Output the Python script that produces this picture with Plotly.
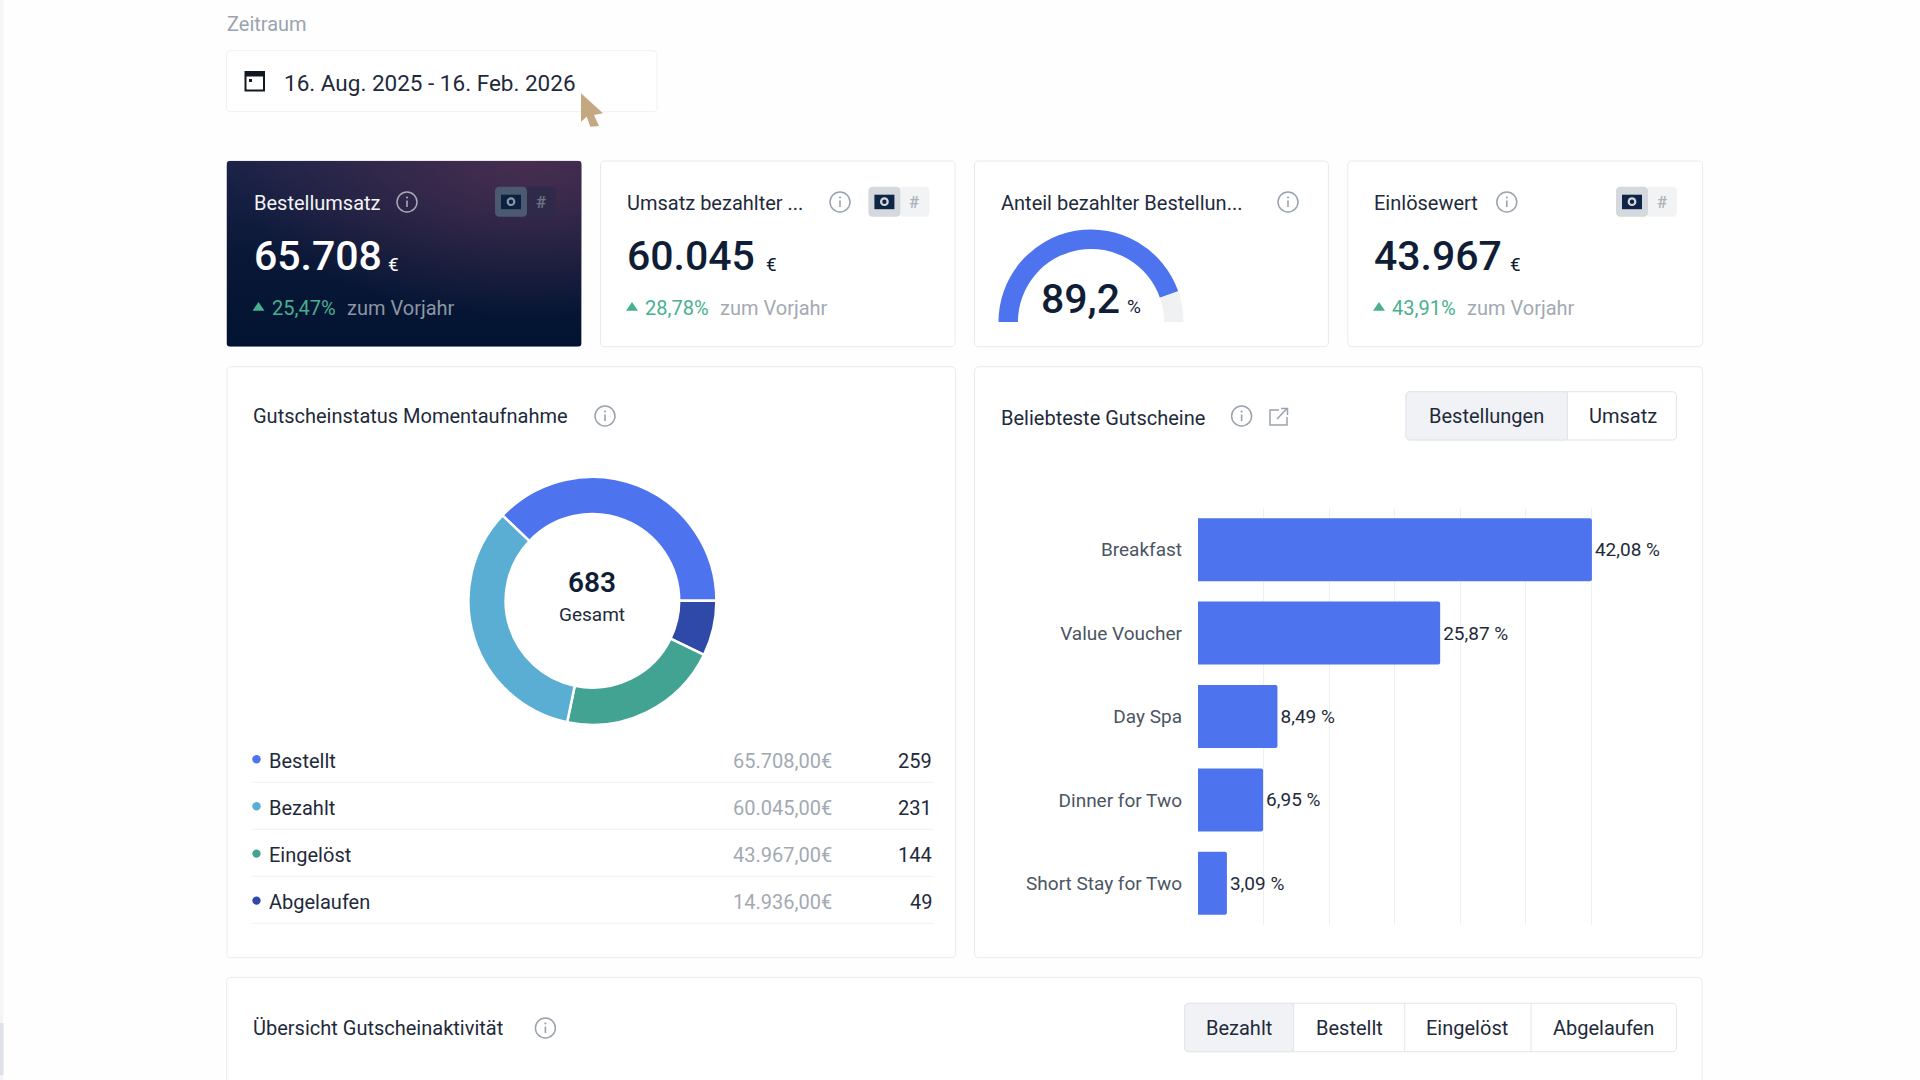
import base64
import plotly.graph_objects as go

# ---------- data ----------
period_label = "16. Aug. 2025 - 16. Feb. 2026"

kpi_titles = ["Bestellumsatz", "Umsatz bezahlter ...", "Anteil bezahlter Bestellun...", "Einlösewert"]
kpi_values = ["65.708", "60.045", "89,2", "43.967"]
kpi_changes = ["25,47%", "28,78%", None, "43,91%"]
gauge_value = 89.2

status_labels = ["Bestellt", "Bezahlt", "Eingelöst", "Abgelaufen"]
status_amounts = [65708, 60045, 43967, 14936]
status_counts = [259, 231, 144, 49]
status_colors = ["#4d74ee", "#5aaed4", "#43a393", "#2f49a8"]

voucher_names = ["Breakfast", "Value Voucher", "Day Spa", "Dinner for Two", "Short Stay for Two"]
voucher_shares = [42.08, 25.87, 8.49, 6.95, 3.09]
grid_ticks = [0, 7, 14, 21, 28, 35, 42]

FONT = "Roboto"
INK = "#1e2a3b"
GREY = "#a3a9b3"
BORDER = "#e8eaed"
BLUE = "#4d74ee"
GREEN = "#48b08f"


def PX(v):
    return v / 1920


def PY(v):
    return 1 - v / 1080


shapes = []
annotations = []


def rrect(x0, y0, x1, y1, r=4, fill="#ffffff", line=None, lw=1):
    k = r * 0.45
    pts = (
        f"M{PX(x0 + r)},{PY(y0)} L{PX(x1 - r)},{PY(y0)} "
        f"C{PX(x1 - k)},{PY(y0)} {PX(x1)},{PY(y0 + k)} {PX(x1)},{PY(y0 + r)} "
        f"L{PX(x1)},{PY(y1 - r)} "
        f"C{PX(x1)},{PY(y1 - k)} {PX(x1 - k)},{PY(y1)} {PX(x1 - r)},{PY(y1)} "
        f"L{PX(x0 + r)},{PY(y1)} "
        f"C{PX(x0 + k)},{PY(y1)} {PX(x0)},{PY(y1 - k)} {PX(x0)},{PY(y1 - r)} "
        f"L{PX(x0)},{PY(y0 + r)} "
        f"C{PX(x0)},{PY(y0 + k)} {PX(x0 + k)},{PY(y0)} {PX(x0 + r)},{PY(y0)} Z"
    )
    shapes.append(dict(type="path", path=pts, xref="paper", yref="paper", layer="below",
                       fillcolor=fill, line=dict(color=line or "rgba(0,0,0,0)", width=lw if line else 0)))


def rect(x0, y0, x1, y1, fill, line=None, lw=0):
    shapes.append(dict(type="rect", xref="paper", yref="paper", layer="below",
                       x0=PX(x0), x1=PX(x1), y0=PY(y1), y1=PY(y0), fillcolor=fill,
                       line=dict(color=line or "rgba(0,0,0,0)", width=lw)))


def circle(cx, cy, r, fill="rgba(0,0,0,0)", line=None, lw=0, layer="below"):
    shapes.append(dict(type="circle", xref="paper", yref="paper", layer=layer,
                       x0=PX(cx - r), x1=PX(cx + r), y0=PY(cy + r), y1=PY(cy - r), fillcolor=fill,
                       line=dict(color=line or "rgba(0,0,0,0)", width=lw)))


def hline(x0, x1, y, color="#eff0f2", lw=1):
    shapes.append(dict(type="line", xref="paper", yref="paper", layer="below",
                       x0=PX(x0), x1=PX(x1), y0=PY(y), y1=PY(y), line=dict(color=color, width=lw)))


def poly(points, fill, line=None, lw=0, close=True):
    d = "M" + " L".join(f"{PX(x)},{PY(y)}" for x, y in points) + (" Z" if close else "")
    shapes.append(dict(type="path", path=d, xref="paper", yref="paper", layer="below",
                       fillcolor=fill, line=dict(color=line or "rgba(0,0,0,0)", width=lw)))


def T(x, y, text, size=20, color=INK, anchor="left", weight=400):
    annotations.append(dict(x=PX(x), y=PY(y), xref="paper", yref="paper", text=text, showarrow=False,
                            xanchor=anchor, yanchor="middle", borderpad=0,
                            font=dict(family=FONT, size=size, color=color, weight=weight)))


def info(cx, cy, color="#9aa2ae"):
    circle(cx, cy, 10, line=color, lw=1.5)
    rect(cx - 0.8, cy - 1.5, cx + 0.8, cy + 5, color)
    circle(cx, cy - 4.5, 1.1, fill=color)


def toggle(x0, y0, left, right, icon, ring, hash_color):
    rrect(x0 + 30, y0, x0 + 61, y0 + 30, 4, right)
    rrect(x0, y0, x0 + 32, y0 + 30, 4, left)
    rect(x0 + 6, y0 + 8, x0 + 26, y0 + 22.5, icon)
    circle(x0 + 16, y0 + 15, 4.4, fill=ring)
    circle(x0 + 16, y0 + 15, 2.2, fill=icon)
    T(x0 + 46, y0 + 15, "#", 17, hash_color, "center", 600)


# ---------- page ----------
rect(0, 0, 3.5, 1080, "#f4f5f7")
rect(0, 1023, 3.5, 1075, "#dfe1ea")

T(226, 24, "Zeitraum", 20, "#9aa3af")
rrect(226.5, 50.7, 657, 111.7, 4, "#ffffff", "#eff1f3")
rect(245.5, 72, 264, 90.5, "#ffffff", "#111820", 2)
rect(245.5, 72, 264, 76.5, "#111820")
rect(249, 79, 252, 82, "#111820")
T(283, 82.7, period_label, 22.5, INK)

# ---------- KPI cards ----------
card_x = [(226.5, 581.6), (600.5, 955), (974.5, 1328.4), (1347.8, 1702.6)]
for i, (x0, x1) in enumerate(card_x):
    if i > 0:
        rrect(x0, 161, x1, 346.7, 4, "#ffffff", BORDER)

svg = """<svg xmlns='http://www.w3.org/2000/svg' width='355' height='186' viewBox='0 0 355 186'>
<defs>
<linearGradient id='a' x1='0' y1='0' x2='0' y2='1'>
<stop offset='0' stop-color='#1c2348'/><stop offset='0.5' stop-color='#0a1837'/><stop offset='1' stop-color='#021332'/></linearGradient>
<radialGradient id='b' cx='0.85' cy='0' r='0.85'>
<stop offset='0' stop-color='#4a2e50' stop-opacity='0.95'/><stop offset='1' stop-color='#4a2e50' stop-opacity='0'/></radialGradient>
</defs>
<rect width='355' height='186' rx='4' fill='url(#a)'/><rect width='355' height='186' rx='4' fill='url(#b)'/></svg>"""
card_image = "data:image/svg+xml;base64," + base64.b64encode(svg.encode()).decode()

text_x = [252.5, 626, 999.7, 1373]
info_x = [407, 840, 1288, 1506.8]
euro_x = [387, 765.3, None, 1509]
for i in range(4):
    dark = i == 0
    T(text_x[i], 202.7, kpi_titles[i], 20, "#f3f4f6" if dark else INK)
    info(info_x[i], 202, "#a5abb4" if dark else "#9aa2ae")
    if i == 2:
        continue
    T(text_x[i], 256, kpi_values[i], 41, "#ffffff" if dark else "#0f1e36", weight=500)
    T(euro_x[i], 264, "€", 19, "#ffffff" if dark else "#0f1e36")
    tx = text_x[i]
    poly([(tx, 310.7), (tx + 6, 302), (tx + 12, 310.7)], GREEN)
    T(tx + 18, 308, kpi_changes[i], 20, GREEN)
    T(tx + 93, 308, "zum Vorjahr", 20, "#8f96a3" if dark else GREY)

toggle(495, 186.7, "#4b5a70", "#2f2a4a", "#0b2142", "#8a95a6", "#6e7486")
toggle(868.4, 186.7, "#d5d8dc", "#f2f3f5", "#0f2547", "#d5d8dc", "#aeb3bb")
toggle(1616, 186.7, "#d5d8dc", "#f2f3f5", "#0f2547", "#d5d8dc", "#aeb3bb")

T(1040, 299, kpi_values[2], 41, "#0f1e36", weight=500)
T(1126, 306.7, "%", 19, "#0f1e36")

# ---------- panels ----------
rrect(227, 366.7, 955.5, 957.7, 4, "#ffffff", BORDER)
rrect(974.5, 366.7, 1702.6, 957.7, 4, "#ffffff", BORDER)
rrect(226.7, 977.3, 1702, 1090, 4, "#ffffff", BORDER)

T(252, 416.4, "Gutscheinstatus Momentaufnahme", 20, INK)
info(605, 416)
T(999.7, 417.5, "Beliebteste Gutscheine", 20, INK)
info(1241.6, 416)

# external link icon
poly([(1279, 410), (1270, 410), (1270, 425), (1287, 425), (1287, 417)], "rgba(0,0,0,0)", "#9aa2ae", 1.5, close=False)
poly([(1277, 419), (1287, 408.5)], "rgba(0,0,0,0)", "#9aa2ae", 1.5, close=False)
poly([(1281, 408.5), (1287.5, 408.5), (1287.5, 415)], "rgba(0,0,0,0)", "#9aa2ae", 1.5, close=False)


def button_group(x0, x1, y0, y1, splits, labels, centers):
    rrect(x0, y0, x1, y1, 4, "#ffffff", "#e3e5e9")
    rrect(x0, y0, splits[0], y1, 4, "#f1f2f5", "#e3e5e9")
    for s in splits:
        shapes.append(dict(type="line", xref="paper", yref="paper", layer="below", x0=PX(s), x1=PX(s),
                           y0=PY(y0), y1=PY(y1), line=dict(color="#e3e5e9", width=1)))
    for lab, c in zip(labels, centers):
        T(c, (y0 + y1) / 2, lab, 20, INK, "center")


button_group(1406, 1676.4, 391.7, 440, [1567.4], ["Bestellungen", "Umsatz"], [1486.6, 1622.9])
T(251.6, 1028.3, "Übersicht Gutscheinaktivität", 20, INK)
info(545.4, 1028)
button_group(1184.6, 1676.5, 1003.3, 1051.7, [1293.6, 1404.7, 1531],
             ["Bezahlt", "Bestellt", "Eingelöst", "Abgelaufen"], [1239, 1349, 1467, 1603.7])

# ---------- legend table ----------
row_y = [760.7, 807.7, 855, 902]
sep_y = [782.3, 829.3, 876.3, 923.3]
for lab, amt, cnt, col, y, sy in zip(status_labels, status_amounts, status_counts, status_colors, row_y, sep_y):
    circle(256.5, y - 1.4, 4.2, fill=col)
    T(268, y, lab, 20, INK)
    amount_text = f"{amt:,.2f}".replace(",", "X").replace(".", ",").replace("X", ".") + "€"
    T(833.4, y, amount_text, 20, GREY, "right")
    T(933, y, str(cnt), 20, INK, "right")
    hline(252.3, 933, sy)

T(592, 582.7, str(sum(status_counts)), 28, "#0f1e36", "center", 600)
T(592, 614.7, "Gesamt", 19, INK, "center")

# cursor
poly([(581, 93.3), (603, 113.3), (594, 115), (599, 126), (590.3, 126.7), (586.7, 116.7), (581, 121.7)], "#c4a882")

# ---------- traces ----------
fig = go.Figure()

order = [0, 3, 2, 1]
fig.add_trace(go.Pie(
    labels=[status_labels[i] for i in order],
    values=[status_counts[i] for i in order],
    marker=dict(colors=[status_colors[i] for i in order], line=dict(color="#ffffff", width=2.5)),
    hole=0.70, sort=False, direction="clockwise", rotation=-46.5,
    textinfo="none", hoverinfo="none", showlegend=False,
    domain=dict(x=[PX(592.4 - 124), PX(592.4 + 124)], y=[PY(600.8 + 124), PY(600.8 - 124)]),
))

fig.add_trace(go.Pie(
    labels=["Bezahlt", "Rest", "Leer"],
    values=[gauge_value, 100 - gauge_value, 100],
    marker=dict(colors=[BLUE, "#f0f1f3", "rgba(0,0,0,0)"], line=dict(width=0)),
    hole=0.79, sort=False, direction="clockwise", rotation=-90,
    textinfo="none", hoverinfo="none", showlegend=False,
    domain=dict(x=[PX(1091 - 92.5), PX(1091 + 92.5)], y=[PY(322 + 92.5), PY(322 - 92.5)]),
))

fig.add_trace(go.Bar(
    y=voucher_names, x=voucher_shares, orientation="h",
    marker=dict(color=BLUE, cornerradius=2, line=dict(width=0)),
    text=[f"{v:.2f}".replace(".", ",") + " %" for v in voucher_shares],
    textposition="outside", cliponaxis=False,
    textfont=dict(family=FONT, size=19, color=INK),
    hoverinfo="none", showlegend=False,
))

fig.update_layout(
    width=1920, height=1080, margin=dict(l=0, r=0, t=0, b=0),
    paper_bgcolor="#fefefe", plot_bgcolor="rgba(0,0,0,0)",
    font=dict(family=FONT, color=INK), bargap=0.245,
    shapes=shapes, annotations=annotations,
    images=[dict(source=card_image, xref="paper", yref="paper", x=PX(226.5), y=PY(160.7),
                 sizex=PX(355.1), sizey=186 / 1080, xanchor="left", yanchor="top",
                 sizing="stretch", layer="below")],
    xaxis=dict(domain=[PX(1198), PX(1690)], range=[0, 52.56], tickvals=grid_ticks, showticklabels=False,
               showgrid=True, gridcolor="#eef0f3", gridwidth=1, zeroline=False, showline=False, ticks=""),
    yaxis=dict(domain=[PY(925), PY(508)], autorange="reversed", showgrid=False, zeroline=False, showline=False,
               ticks="", ticklabelstandoff=15, automargin=False,
               tickfont=dict(family=FONT, size=19, color="#4b5563")),
)

fig.write_html("out.html", config=dict(displayModeBar=False),
               post_script="document.body.style.margin='0';document.body.style.overflow='hidden';")
